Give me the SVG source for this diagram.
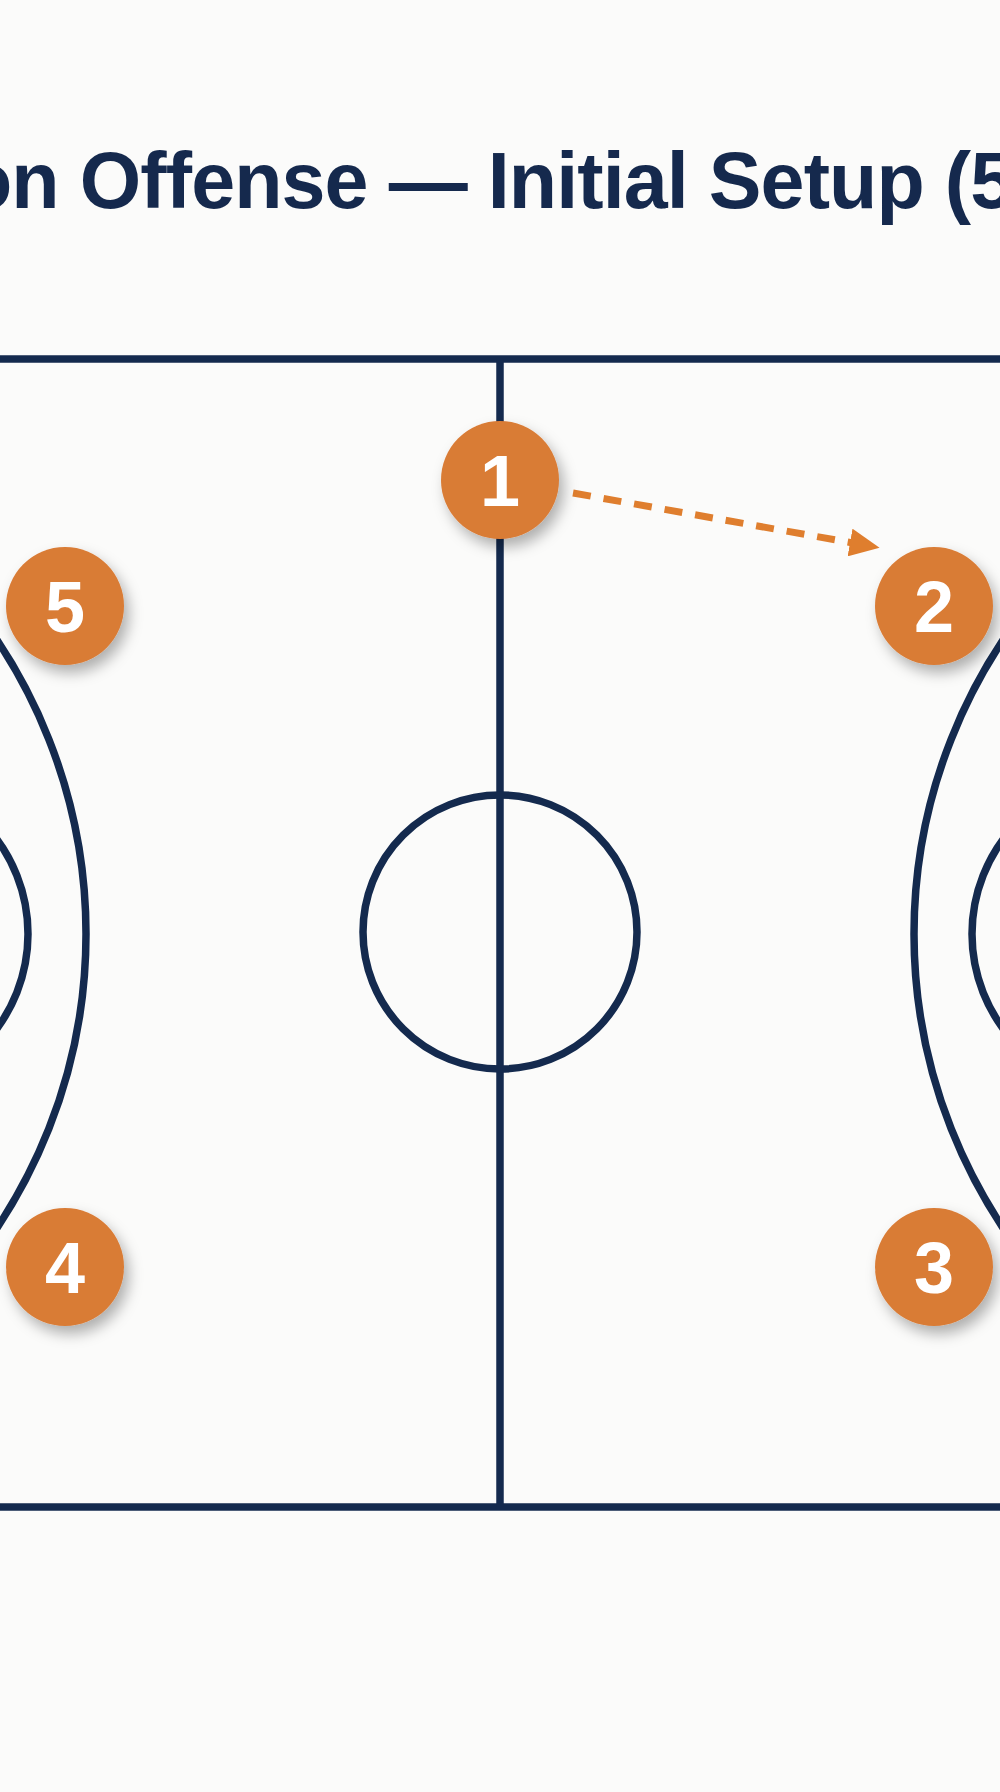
<svg xmlns="http://www.w3.org/2000/svg" width="1000" height="1792" viewBox="0 0 1000 1792">
<style>
.court{fill:none;stroke:#142a4e;stroke-width:7.5}
.title{font-family:"Liberation Sans",Arial,sans-serif;font-weight:bold;font-size:79px;letter-spacing:-0.9px;fill:#15294d}
.disc{fill:#d97b35}
.num{font-family:"Liberation Sans",Arial,sans-serif;font-weight:bold;font-size:72px;fill:#ffffff;text-anchor:middle}
.pass{fill:none;stroke:#df7e2e;stroke-width:7;stroke-dasharray:18 13}
</style>
<defs>
<filter id="sh" x="-40%" y="-40%" width="180%" height="180%">
<feDropShadow dx="5" dy="8" stdDeviation="7" flood-color="#000" flood-opacity="0.3"/>
</filter>
<marker id="ah" markerUnits="userSpaceOnUse" markerWidth="32" markerHeight="28" refX="3" refY="14" orient="auto">
<path d="M0,0 L30,14 L0,28 Z" fill="#df7e2e"/>
</marker>
</defs>
<rect width="1000" height="1792" fill="#fbfbfa"/>
<text class="title" x="-36" y="208">on Offense — Initial Setup (5</text>
<g id="court">
<line class="court" x1="0" y1="359" x2="1000" y2="359"/>
<line class="court" x1="0" y1="1507" x2="1000" y2="1507"/>
<line class="court" x1="500" y1="359" x2="500" y2="1507"/>
<circle class="court" cx="500" cy="932" r="137"/>
<circle class="court" cx="-443" cy="934" r="529"/>
<circle class="court" cx="-131" cy="934" r="159"/>
<circle class="court" cx="1443" cy="934" r="529"/>
<circle class="court" cx="1131" cy="934" r="159"/>
</g>
<g id="connectors">
<line class="pass" x1="573" y1="493" x2="853" y2="543" marker-end="url(#ah)"/>
</g>
<g id="p1" filter="url(#sh)"><circle class="disc" cx="500" cy="480" r="59"/><text class="num" x="500" y="506">1</text></g>
<g id="p2" filter="url(#sh)"><circle class="disc" cx="934" cy="606" r="59"/><text class="num" x="934" y="632">2</text></g>
<g id="p3" filter="url(#sh)"><circle class="disc" cx="934" cy="1267" r="59"/><text class="num" x="934" y="1293">3</text></g>
<g id="p4" filter="url(#sh)"><circle class="disc" cx="65" cy="1267" r="59"/><text class="num" x="65" y="1293">4</text></g>
<g id="p5" filter="url(#sh)"><circle class="disc" cx="65" cy="606" r="59"/><text class="num" x="65" y="632">5</text></g>
</svg>
